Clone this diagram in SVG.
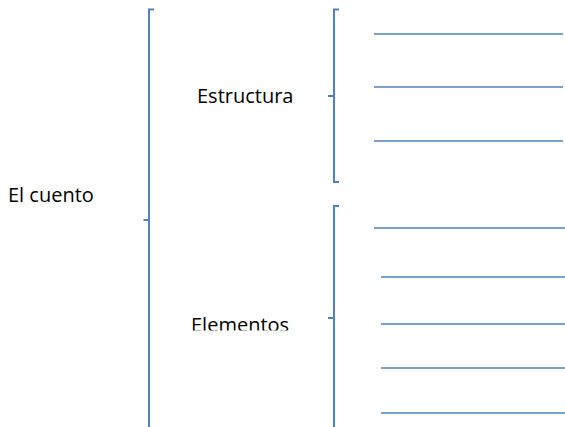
<svg xmlns="http://www.w3.org/2000/svg" width="565" height="427" viewBox="0 0 565 427">
<style>
.br{fill:none;stroke:#4f81bd;stroke-width:2}
.ln{fill:none;stroke:#4f81bd;stroke-width:1.6}
.t{font-family:"Open Sans","Liberation Sans",sans-serif;font-size:20px;fill:#000}
</style>
<defs>
<clipPath id="clipEl"><rect x="150" y="290" width="180" height="40.5"/></clipPath>
</defs>
<rect width="565" height="427" fill="#fff"/>
<g id="connectors">
<path class="br" d="M154,9.5 H149 V428 M149,220 H143.5"/>
<path class="br" d="M339,9.5 H334 V182 H339 M334,96 H328"/>
<path class="br" d="M339,206 H334 V428 M334,318 H328"/>
<path class="ln" d="M374,34 H563 M374,87 H563 M374,141 H563"/>
<path class="ln" d="M374,228 H565 M381,277 H565 M381,324 H565 M381,368 H565 M381,413 H565"/>
</g>
<g id="n-cuento"><text class="t" x="8" y="201.5">El cuento</text></g>
<g id="n-estructura"><text class="t" x="197" y="102.5">Estructura</text></g>
<g id="n-elementos"><text class="t" x="191" y="332" clip-path="url(#clipEl)">Elementos</text></g>
</svg>
